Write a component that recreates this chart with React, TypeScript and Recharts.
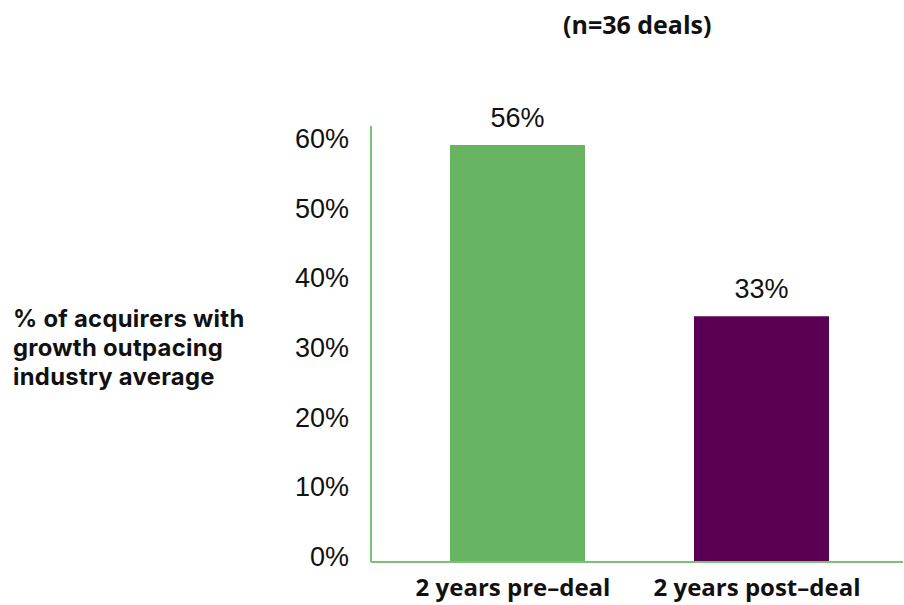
import React from 'react';
import { BarChart, Bar, XAxis, YAxis, Cell, LabelList } from 'recharts';

const categories = ['2 years pre–deal', '2 years post–deal'];
const shares = [56, 33];
const barColors = ['#69b462', '#5a0052'];
const tickValues = [0, 10, 20, 30, 40, 50, 60];
const captionLines = ['% of acquirers with', 'growth outpacing', 'industry average'];
const subtitle = '(n=36 deals)';

const data = categories.map((name, i) => ({ name, value: shares[i] }));

const axisGreen = '#7cc274';
const labelFont = '"Open Sans", sans-serif';
const captionFont = 'Inter, "Open Sans", sans-serif';
const numberFont = '"Liberation Sans", Arial, sans-serif';

export default function App() {
  return (
    <div style={{ position: 'fixed', left: 0, top: 0, width: 904, height: 605, background: '#fff' }}>
      <div
        style={{
          position: 'absolute',
          left: 563,
          top: 10,
          fontFamily: labelFont,
          fontWeight: 700,
          fontSize: 25,
          lineHeight: '28px',
          color: '#111',
          whiteSpace: 'nowrap',
        }}
      >
        {subtitle}
      </div>
      <div
        style={{
          position: 'absolute',
          left: 13,
          top: 304,
          fontFamily: captionFont,
          fontWeight: 700,
          fontSize: 23.8,
          letterSpacing: 0.3,
          lineHeight: '29px',
          color: '#111',
          whiteSpace: 'nowrap',
        }}
      >
        {captionLines.map((l) => (
          <div key={l}>{l}</div>
        ))}
      </div>
      <BarChart
        width={904}
        height={605}
        data={data}
        margin={{ top: 126, right: 1, left: 200, bottom: 3 }}
        style={{ position: 'absolute', left: 0, top: 0 }}
      >
        <XAxis
          dataKey="name"
          padding={{ left: 24, right: 20 }}
          axisLine={{ stroke: axisGreen, strokeWidth: 2 }}
          tickLine={false}
          tickSize={0}
          tickMargin={17}
          height={40}
          interval={0}
          tick={{ fontFamily: labelFont, fontWeight: 700, fontSize: 24, fill: '#111', dx: -4 }}
        />
        <YAxis yAxisId="bars" hide width={0} domain={[0, 58.55]} />
        <YAxis
          yAxisId="labels"
          width={171}
          domain={[-0.79, 61.79]}
          allowDataOverflow
          ticks={tickValues}
          interval={0}
          tickFormatter={(v) => `${v}%`}
          axisLine={{ stroke: axisGreen, strokeWidth: 2 }}
          tickLine={false}
          tickSize={0}
          tickMargin={22}
          tick={{ fontFamily: numberFont, fontSize: 27, fill: '#111' }}
        />
        <Bar yAxisId="bars" dataKey="value" barSize={135} isAnimationActive={false}>
          {data.map((d, i) => (
            <Cell key={d.name} fill={barColors[i]} />
          ))}
          <LabelList
            dataKey="value"
            position="top"
            offset={18}
            formatter={(v: number) => `${v}%`}
            style={{ fontFamily: numberFont, fontSize: 27, fill: '#111' }}
          />
        </Bar>
      </BarChart>
    </div>
  );
}
